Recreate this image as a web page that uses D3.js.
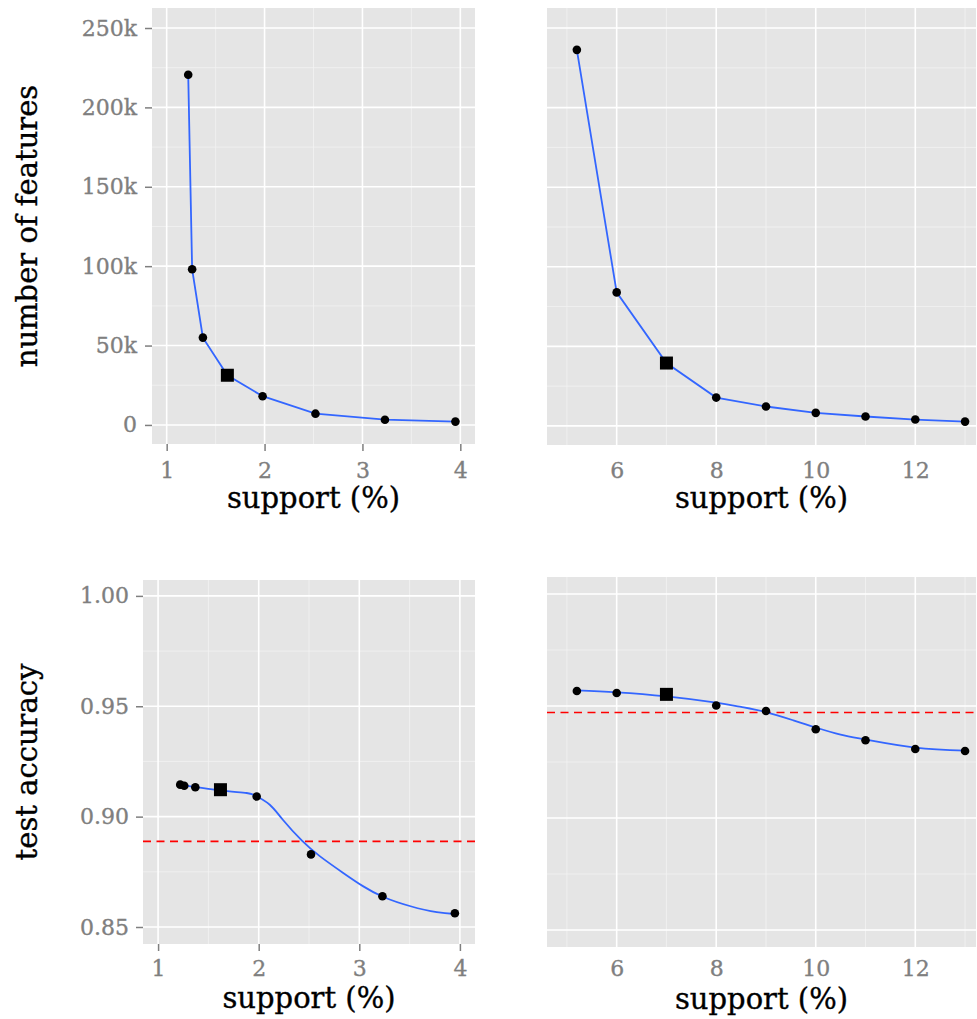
<!DOCTYPE html>
<html>
<head>
<meta charset="utf-8">
<script src="https://cdn.jsdelivr.net/npm/d3@7"></script>
<style>
  html, body { margin: 0; padding: 0; background: #fff; }
  svg { display: block; }
  .tick text { font-family: "DejaVu Serif", serif; font-size: 22px; fill: #7f7f7f; stroke: #7f7f7f; stroke-width: 0.35; }
  .tick line { stroke: #7f7f7f; stroke-width: 1.5; }
  .title { font-family: "DejaVu Serif", serif; font-size: 29px; fill: #000; stroke: #000; stroke-width: 0.35; }
</style>
</head>
<body>
<svg id="chart"></svg>
<script>
// support values (%) for the two runs
const lowSupport = [1.22, 1.26, 1.37, 1.62, 1.98, 2.52, 3.23, 3.95];
const highSupport = [5.2, 6, 7, 8, 9, 10, 11, 12, 13];

// number of features
const lowFeatures = [220600, 98100, 55000, 31300, 18100, 7100, 3300, 2100];
const highFeatures = [236300, 83900, 39500, 17800, 12200, 8200, 5900, 4000, 2700];

// test accuracy
const lowAccuracy = [0.9145, 0.9140, 0.9133, 0.9122, 0.9091, 0.8829, 0.8639, 0.8562];
const highAccuracy = [0.9567, 0.9558, 0.9552, 0.9502, 0.9478, 0.9396, 0.9347, 0.9308, 0.9299];

// selected setting (drawn as a square)
const lowSelected = 1.62;
const highSelected = 7;

// smoothed accuracy curves
const lowFitSupport = [1.21, 1.61, 1.88, 1.98, 2.11, 2.24, 2.43, 2.61, 2.84, 3.04, 3.24, 3.51, 3.77, 3.95];
const lowFitAccuracy = [0.9145, 0.9119, 0.9107, 0.9092, 0.9054, 0.8986, 0.8891, 0.8820, 0.8745, 0.8684, 0.8636, 0.8594, 0.8567, 0.8559];
const highFitSupport = [5.2, 6, 7, 8, 8.5, 9, 9.55, 10, 10.5, 11, 12, 13];
const highFitAccuracy = [0.9570, 0.9561, 0.9543, 0.9515, 0.9496, 0.9473, 0.9436, 0.9404, 0.9372, 0.9350, 0.9314, 0.9301];

// baseline accuracy (dashed)
const lowBaseline = 0.8888;
const highBaseline = 0.9471;

// tick values
const lowXTicks = [1, 2, 3, 4];
const lowXMinor = [1.5, 2.5, 3.5];
const highXTicks = [6, 8, 10, 12];
const highXMinor = [5, 7, 9, 11, 13];
const featureTicks = [0, 50000, 100000, 150000, 200000, 250000];
const featureMinor = [25000, 75000, 125000, 175000, 225000];
const accuracyTicks = [0.85, 0.90, 0.95, 1.00];
const accuracyMinor = [0.875, 0.925, 0.975];

const width = 977;
const height = 1019;

const svg = d3.select("#chart")
  .attr("width", width)
  .attr("height", height);

svg.append("rect").attr("width", width).attr("height", height).attr("fill", "#fff");

/**
 * Draw one ggplot-style panel
 */
function drawPanel(p) {
  const x = d3.scaleLinear().domain(p.xDomain).range([p.left, p.right]);
  const y = d3.scaleLinear().domain(p.yDomain).range([p.bottom, p.top]);
  const g = svg.append("g");

  g.append("rect")
    .attr("x", p.left).attr("y", p.top)
    .attr("width", p.right - p.left).attr("height", p.bottom - p.top)
    .attr("fill", "#e5e5e5");

  // minor grid
  g.selectAll(".vminor").data(p.xMinor).join("line")
    .attr("x1", x).attr("x2", x).attr("y1", p.top).attr("y2", p.bottom)
    .attr("stroke", "#f2f2f2").attr("stroke-width", 0.8);
  g.selectAll(".hminor").data(p.yMinor).join("line")
    .attr("x1", p.left).attr("x2", p.right).attr("y1", y).attr("y2", y)
    .attr("stroke", "#f2f2f2").attr("stroke-width", 0.8);

  // major grid
  g.selectAll(".vmajor").data(p.xTicks).join("line")
    .attr("x1", x).attr("x2", x).attr("y1", p.top).attr("y2", p.bottom)
    .attr("stroke", "#fff").attr("stroke-width", 1.6);
  g.selectAll(".hmajor").data(p.yTicks).join("line")
    .attr("x1", p.left).attr("x2", p.right).attr("y1", y).attr("y2", y)
    .attr("stroke", "#fff").attr("stroke-width", 1.6);

  // x axis
  const xAxis = g.append("g")
    .attr("transform", `translate(0,${p.bottom})`)
    .call(d3.axisBottom(x).tickValues(p.xTicks).tickFormat(d3.format("d"))
      .tickSize(p.xTickMarks ? 7 : 0).tickPadding(p.xPad));
  xAxis.select(".domain").remove();
  xAxis.selectAll("text").attr("dy", "0.71em");

  // y axis
  if (p.yLabels) {
    const yAxis = g.append("g")
      .attr("transform", `translate(${p.left},0)`)
      .call(d3.axisLeft(y).tickValues(p.yTicks).tickFormat(p.yFormat)
        .tickSize(7).tickPadding(p.yPad));
    yAxis.select(".domain").remove();
  }

  // baseline
  if (p.baseline !== undefined) {
    g.append("line")
      .attr("x1", p.left).attr("x2", p.right)
      .attr("y1", y(p.baseline)).attr("y2", y(p.baseline))
      .attr("stroke", "#ff0000").attr("stroke-width", 1.7)
      .attr("stroke-dasharray", "8,5.5");
  }

  // line
  const line = d3.line()
    .x((d) => x(d[0]))
    .y((d) => y(d[1]))
    .curve(p.smooth ? d3.curveNatural : d3.curveLinear);
  g.append("path")
    .datum(d3.zip(p.lineX, p.lineY))
    .attr("d", line)
    .attr("fill", "none")
    .attr("stroke", "#3366ff")
    .attr("stroke-width", 1.8);

  // points
  const pts = d3.zip(p.xs, p.ys);
  g.selectAll(".pt").data(pts.filter((d) => d[0] !== p.selected)).join("circle")
    .attr("cx", (d) => x(d[0])).attr("cy", (d) => y(d[1]))
    .attr("r", 4.3).attr("fill", "#000");
  g.selectAll(".sel").data(pts.filter((d) => d[0] === p.selected)).join("rect")
    .attr("x", (d) => x(d[0]) - 6.5).attr("y", (d) => y(d[1]) - 6.5)
    .attr("width", 13).attr("height", 13).attr("fill", "#000");

  // x title
  g.append("text").attr("class", "title")
    .attr("x", (p.left + p.right) / 2).attr("y", p.xTitleY)
    .attr("text-anchor", "middle")
    .text("support (%)");
}

const kFormat = (d) => (d === 0 ? "0" : d / 1000 + "k");

drawPanel({
  left: 152, right: 475, top: 8, bottom: 444,
  xDomain: [0.85, 4.15], yDomain: [-12000, 262600],
  xTicks: lowXTicks, xMinor: lowXMinor, yTicks: featureTicks, yMinor: featureMinor,
  xTickMarks: true, xPad: 11, yLabels: true, yFormat: kFormat, yPad: 8,
  xs: lowSupport, ys: lowFeatures, lineX: lowSupport, lineY: lowFeatures,
  smooth: false, selected: lowSelected, xTitleY: 508
});

drawPanel({
  left: 547, right: 976, top: 8, bottom: 445,
  xDomain: [4.6, 13.22], yDomain: [-12000, 262600],
  xTicks: highXTicks, xMinor: highXMinor, yTicks: featureTicks, yMinor: featureMinor,
  xTickMarks: false, xPad: 17, yLabels: false,
  xs: highSupport, ys: highFeatures, lineX: highSupport, lineY: highFeatures,
  smooth: false, selected: highSelected, xTitleY: 508
});

drawPanel({
  left: 143, right: 475, top: 580, bottom: 944,
  xDomain: [0.85, 4.15], yDomain: [0.8423, 1.0072],
  xTicks: lowXTicks, xMinor: lowXMinor, yTicks: accuracyTicks, yMinor: accuracyMinor,
  xTickMarks: true, xPad: 9, yLabels: true, yFormat: d3.format(".2f"), yPad: 7,
  xs: lowSupport, ys: lowAccuracy, lineX: lowFitSupport, lineY: lowFitAccuracy,
  smooth: true, selected: lowSelected, baseline: lowBaseline, xTitleY: 1008
});

drawPanel({
  left: 547, right: 976, top: 577, bottom: 947,
  xDomain: [4.6, 13.22], yDomain: [0.8424, 1.0076],
  xTicks: highXTicks, xMinor: highXMinor, yTicks: accuracyTicks, yMinor: accuracyMinor,
  xTickMarks: false, xPad: 13, yLabels: false,
  xs: highSupport, ys: highAccuracy, lineX: highFitSupport, lineY: highFitAccuracy,
  smooth: true, selected: highSelected, baseline: highBaseline, xTitleY: 1009
});

// y titles
svg.append("text").attr("class", "title")
  .attr("transform", "translate(37,226) rotate(-90)")
  .attr("text-anchor", "middle")
  .text("number of features");

svg.append("text").attr("class", "title")
  .attr("transform", "translate(37,762) rotate(-90)")
  .attr("text-anchor", "middle")
  .text("test accuracy");
</script>
</body>
</html>
